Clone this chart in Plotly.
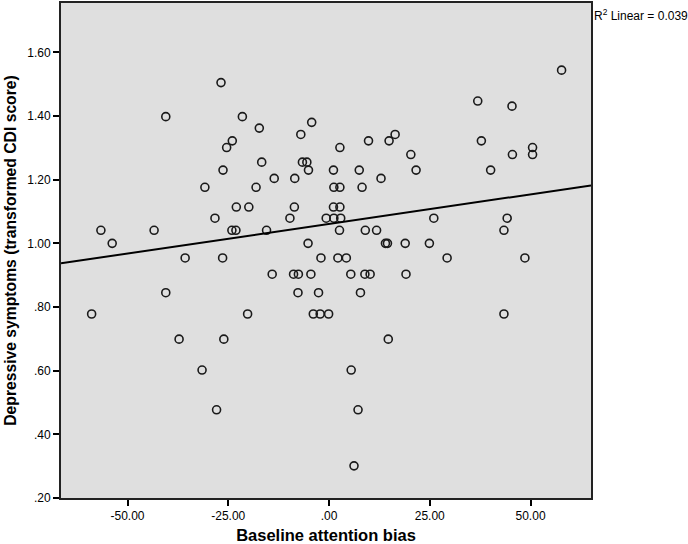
import numpy as np
import plotly.graph_objects as go

# baseline attention bias (x) and transformed CDI score (y)
bias = [-26.8, -40.5, -21.5, -17.3, -24.0, -25.4, -16.7, -26.3, -13.6, -30.8,
        -18.1, -23.0, -19.9, -28.3, -9.7, -56.6, -43.4, -24.1, -23.1, -15.5,
        -53.8, 36.9, 45.4, -4.3, -7.0, 16.4, 9.8, 14.9, 37.8, 2.7,
        20.3, 45.5, -6.6, -5.5, -5.1, 1.1, 7.5, 21.6, 40.1, -8.5,
        12.9, 1.2, 2.7, 8.2, -8.6, 1.1, 2.7, -0.7, 1.2, 2.9,
        26.0, 44.2, 2.6, 9.0, 11.8, 43.4, -5.2, 14.0, 14.5, 18.9,
        24.9, 57.7, 50.5, 50.5, -35.7, -26.4, -14.1, -40.5, -58.9, -20.2,
        -37.2, -26.1, -31.5, -27.9, -2.0, 2.2, 4.3, 29.3, -8.8, -7.6,
        -4.5, 5.4, 8.9, 10.2, 19.1, -7.7, -2.6, 7.8, -3.9, -2.2,
        -0.1, 43.4, 14.7, 5.5, 7.2, 6.2, 48.6]
cdi = [1.505, 1.398, 1.398, 1.362, 1.322, 1.301, 1.255, 1.230, 1.204, 1.176,
       1.176, 1.114, 1.114, 1.079, 1.079, 1.041, 1.041, 1.041, 1.041, 1.041,
       1.000, 1.447, 1.431, 1.380, 1.342, 1.342, 1.322, 1.322, 1.322, 1.301,
       1.279, 1.279, 1.255, 1.255, 1.230, 1.230, 1.230, 1.230, 1.230, 1.204,
       1.204, 1.176, 1.176, 1.176, 1.114, 1.114, 1.114, 1.079, 1.079, 1.079,
       1.079, 1.079, 1.041, 1.041, 1.041, 1.041, 1.000, 1.000, 1.000, 1.000,
       1.000, 1.544, 1.301, 1.279, 0.954, 0.954, 0.903, 0.845, 0.778, 0.778,
       0.699, 0.699, 0.602, 0.477, 0.954, 0.954, 0.954, 0.954, 0.903, 0.903,
       0.903, 0.903, 0.903, 0.903, 0.903, 0.845, 0.845, 0.845, 0.778, 0.778,
       0.778, 0.778, 0.699, 0.602, 0.477, 0.301, 0.954]

x_ticks = [-50, -25, 0, 25, 50]
x_ticklabels = ["-50.00", "-25.00", ".00", "25.00", "50.00"]
y_ticks = [0.2, 0.4, 0.6, 0.8, 1.0, 1.2, 1.4, 1.6]
y_ticklabels = [".20", ".40", ".60", ".80", "1.00", "1.20", "1.40", "1.60"]
r2_label = "R<sup>2</sup> Linear = 0.039"

x_range = [-66.5, 65.0]
y_range = [0.2, 1.755]

# least squares fit line across the full x range
slope, intercept = np.polyfit(bias, cdi, 1)
fit_x = np.array(x_range)
fit_y = intercept + slope * fit_x

font = "Liberation Sans, Arial, sans-serif"

fig = go.Figure()
fig.add_trace(go.Scatter(x=bias, y=cdi, mode='markers',
                         marker=dict(symbol='circle-open', size=8, color='#1a1a1a', line=dict(width=1.6)),
                         hoverinfo='skip'))
fig.add_trace(go.Scatter(x=fit_x, y=fit_y, mode='lines',
                         line=dict(color='#000000', width=2), hoverinfo='skip'))

fig.add_annotation(text=r2_label, xref='paper', yref='paper', x=1.0, y=1.0,
                   xanchor='left', yanchor='top', yshift=-2, xshift=1, showarrow=False,
                   font=dict(family=font, size=12, color='#000000'))

fig.update_layout(
    width=688, height=544,
    showlegend=False,
    paper_bgcolor='white', plot_bgcolor='#dfdfdf',
    margin=dict(l=61, r=97, t=3, b=46, autoexpand=False),
    font=dict(family=font, color='#000000'),
    xaxis=dict(range=x_range, tickvals=x_ticks, ticktext=x_ticklabels,
               showgrid=False, zeroline=False, ticks='outside', ticklen=6, tickwidth=2,
               tickcolor='#000000', showline=True, linecolor='#222222', linewidth=2, mirror=True,
               tickfont=dict(size=12, family=font),
               title=dict(text="<b>Baseline attention bias</b>", font=dict(size=16.5, family=font), standoff=10)),
    yaxis=dict(range=y_range, tickvals=y_ticks, ticktext=y_ticklabels,
               showgrid=False, zeroline=False, ticks='outside', ticklen=6, tickwidth=2,
               tickcolor='#000000', showline=True, linecolor='#222222', linewidth=2, mirror=True,
               tickfont=dict(size=12, family=font),
               title=dict(text="<b>Depressive symptoms (transformed CDI score)</b>", font=dict(size=15.7, family=font), standoff=7)),
)

# page body has an 8px default margin; drop it so the 688x544 figure fills the window
fig.write_html("out.html", config={'displayModeBar': False},
               post_script="document.body.style.margin='0';document.body.style.overflow='hidden';")
